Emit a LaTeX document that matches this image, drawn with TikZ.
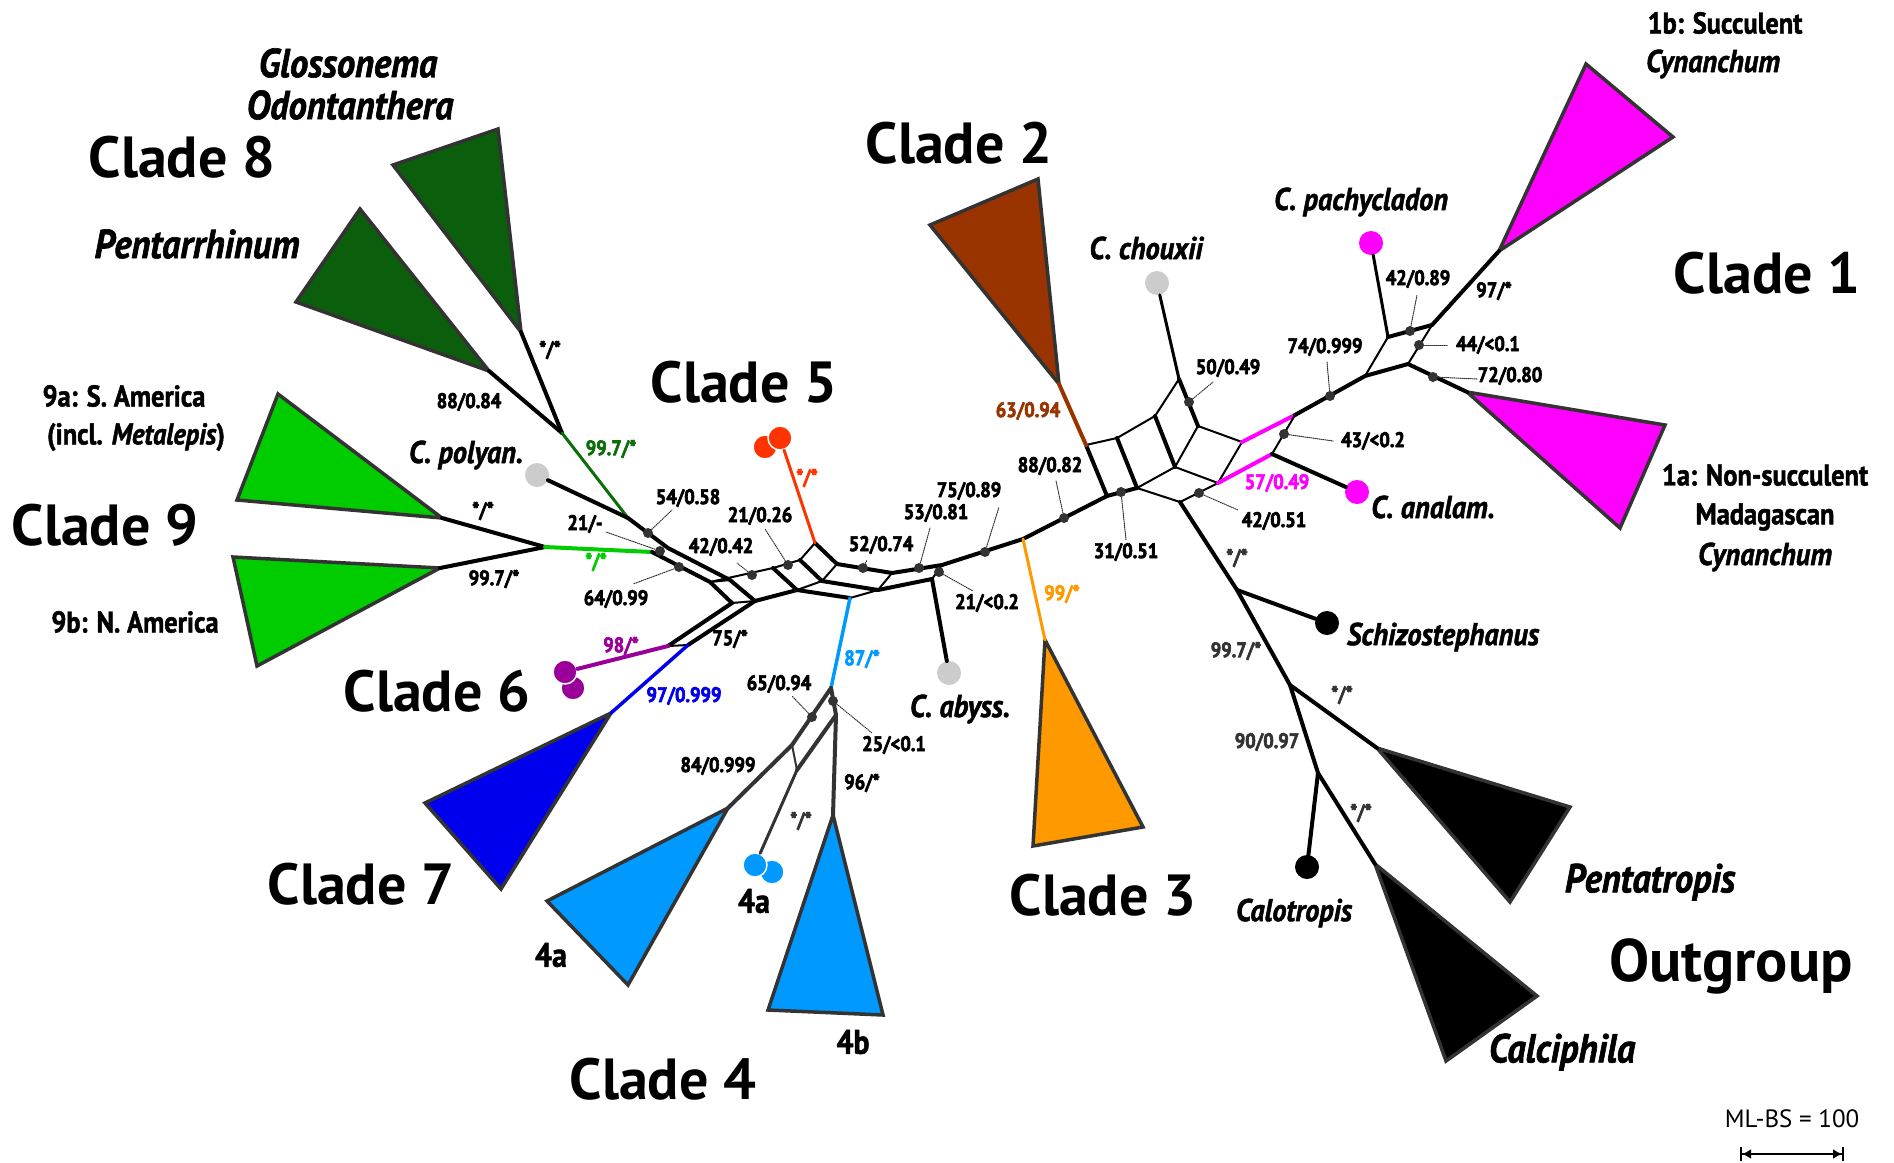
\documentclass[tikz,border=0pt]{standalone}
\usepackage{fontspec}
\newfontfamily\cf[FakeStretch=0.88, FakeBold=1.5]{PT Sans}
\newfontfamily\cs[FakeStretch=0.88, FakeBold=3]{PT Sans}
\newfontfamily\ci[FakeStretch=0.9, FakeBold=1.5]{PT Sans}
\newfontfamily\wf{PT Sans}
\usetikzlibrary{arrows.meta}
\definecolor{cmag}{HTML}{FF00FF}
\definecolor{cbrown}{HTML}{993300}
\definecolor{corange}{HTML}{FF9900}
\definecolor{cdkgreen}{HTML}{0B5E0B}
\definecolor{cdkline}{HTML}{0A6E0A}
\definecolor{cltgreen}{HTML}{00CC00}
\definecolor{cpurple}{HTML}{990099}
\definecolor{cblue}{HTML}{0000EE}
\definecolor{cltblue}{HTML}{0099FF}
\definecolor{cred}{HTML}{FF3300}
\definecolor{cgray}{HTML}{CCCCCC}
\definecolor{cdark}{HTML}{333333}
\tikzset{
  thk/.style={line width=4pt},
  thn/.style={line width=2pt},
  tri/.style={draw=cdark, line width=3.5pt, line join=miter},
  dotn/.style={circle, fill=cdark, minimum size=10pt, inner sep=0pt},
  leader/.style={densely dotted, line width=1pt, cdark},
  tip/.style={circle, minimum size=24pt, inner sep=0pt},
  sl/.style={font=\cs\bfseries\fontsize{21}{21}\selectfont, inner sep=0pt},
  tx/.style={font=\ci\bfseries\itshape\fontsize{31.5}{31.5}\selectfont, inner sep=0pt},
  txb/.style={font=\ci\bfseries\itshape\fontsize{40.5}{40.5}\selectfont, inner sep=0pt},
  sub/.style={font=\cf\bfseries\fontsize{30}{30}\selectfont, inner sep=0pt},
  subl/.style={font=\cf\bfseries\fontsize{34}{34}\selectfont, inner sep=0pt},
  clade/.style={font=\wf\bfseries\fontsize{58}{58}\selectfont, inner sep=0pt},
}
\begin{document}
\begin{tikzpicture}[x=1pt,y=-1pt,line cap=round,line join=round]
\useasboundingbox (0,0) rectangle (1894,1162);

% ---------- coordinates ----------
\coordinate (p8a) at (521,332);
\coordinate (p8b) at (489,371);
\coordinate (j8) at (562,433);
\coordinate (jU) at (628,518);
\coordinate (a9a) at (442,518);
\coordinate (a9b) at (440,568);
\coordinate (j9) at (545,547);
\coordinate (jL) at (652,552);
\coordinate (u2) at (668,548);
\coordinate (u3) at (730,580);
\coordinate (u4) at (755,601);
\coordinate (l2) at (710,582);
\coordinate (l3) at (732,603);
\coordinate (pj) at (668,646);
\coordinate (bj) at (688,645);
\coordinate (a7) at (611,713);
\coordinate (m1) at (797,590);
\coordinate (m2) at (822,581);
\coordinate (m3) at (773,568);
\coordinate (m4) at (800,560);
\coordinate (r1) at (815,543);
\coordinate (r2) at (837,564);
\coordinate (bL) at (850,598);
\coordinate (n1) at (878,590);
\coordinate (n2) at (892,573);
\coordinate (n3) at (942,565);
\coordinate (n4) at (932,579);
\coordinate (oj) at (1023,539);
\coordinate (a3) at (1045,640);
\coordinate (c4) at (831,688);
\coordinate (k2) at (792,745);
\coordinate (a4a) at (728,808);
\coordinate (k4) at (836,715);
\coordinate (a4b) at (833,815);
\coordinate (k5) at (797,770);
\coordinate (R0) at (1107,496);
\coordinate (R1) at (1086,445);
\coordinate (R2) at (1117,438);
\coordinate (R3) at (1137,488);
\coordinate (R4) at (1155,416);
\coordinate (R5) at (1175,467);
\coordinate (R6) at (1179,379);
\coordinate (R7) at (1198,426);
\coordinate (R8) at (1242,442);
\coordinate (R9) at (1218,483);
\coordinate (R10) at (1180,502);
\coordinate (a2) at (1059,384);
\coordinate (M1) at (1295,415);
\coordinate (M2) at (1272,454);
\coordinate (B1) at (1365,376);
\coordinate (B2) at (1408,364);
\coordinate (B3) at (1388,337);
\coordinate (B4) at (1432,325);
\coordinate (a1b) at (1499,251);
\coordinate (a1a) at (1467,392);
\coordinate (O1) at (1237,590);
\coordinate (O2) at (1290,685);
\coordinate (O3) at (1318,773);
\coordinate (aPt) at (1377,748);
\coordinate (aCa) at (1375,864);

% ---------- triangles ----------
\filldraw[tri, fill=cdkgreen] (393,165) -- (498,129) -- (p8a) -- cycle;
\filldraw[tri, fill=cdkgreen] (296,302) -- (360,209) -- (p8b) -- cycle;
\filldraw[tri, fill=cltgreen] (278,394) -- (237,500) -- (a9a) -- cycle;
\filldraw[tri, fill=cltgreen] (233,557) -- (257,666) -- (a9b) -- cycle;
\filldraw[tri, fill=cblue] (425,803) -- (501,889) -- (a7) -- cycle;
\filldraw[tri, fill=cltblue] (547,901) -- (628,985) -- (a4a) -- cycle;
\filldraw[tri, fill=cltblue] (768,1010) -- (883,1015) -- (a4b) -- cycle;
\filldraw[tri, fill=corange] (1033,846) -- (1143,827) -- (a3) -- cycle;
\filldraw[tri, fill=cbrown] (930,225) -- (1038,179) -- (a2) -- cycle;
\filldraw[tri, fill=cmag] (1586,64) -- (1673,137) -- (a1b) -- cycle;
\filldraw[tri, fill=cmag] (1665,425) -- (1620,528) -- (a1a) -- cycle;
\filldraw[tri, fill=black] (1570,807) -- (1510,902) -- (aPt) -- cycle;
\filldraw[tri, fill=black] (1537,996) -- (1446,1061) -- (aCa) -- cycle;

% ---------- tips (circles) ----------
\node[tip, fill=cgray] (cpol) at (537,475) {};
\node[tip, fill=cpurple, draw=white, line width=1.5pt] (pc2) at (573,688) {};
\node[tip, fill=cpurple, draw=white, line width=1.5pt] (pc1) at (565,672) {};
\node[tip, fill=cred, draw=white, line width=1.5pt] (rc1) at (765,447) {};
\node[tip, fill=cred, draw=white, line width=1.5pt] (rc2) at (780,438) {};
\node[tip, fill=cltblue, draw=white, line width=1.5pt] (bc2) at (772,872) {};
\node[tip, fill=cltblue, draw=white, line width=1.5pt] (bc1) at (755,865) {};
\node[tip, fill=cgray] (cab) at (949,673) {};
\node[tip, fill=cgray] (cch) at (1157,283) {};
\node[tip, fill=cmag] (cpa) at (1371,243) {};
\node[tip, fill=cmag] (can) at (1357,492) {};
\node[tip, fill=black] (csc) at (1327,623) {};
\node[tip, fill=black] (cca) at (1307,867) {};

% ---------- left part ----------
\draw[thk] (p8a) -- (j8);
\draw[thk] (p8b) -- (j8);
\draw[line width=3pt, cdkline] (j8) -- (jU);
\draw[thk] (cpol) -- (jU);
\draw[thk] (a9a) -- (j9);
\draw[thk] (a9b) -- (j9);
\draw[line width=4pt, cltgreen] (j9) -- (jL);
\draw[thk] (jU) -- (u2) -- (u3) -- (u4);
\draw[thk] (jL) -- (l2) -- (l3);
\draw[thn] (l2) -- (u3);
\draw[thn] (l3) -- (u4);
\draw[thk] (l3) -- (pj);
\draw[thk] (u4) -- (bj);
\draw[thn] (pj) -- (bj);
\draw[line width=4pt, cpurple] (pj) -- (pc1);
\draw[line width=3.5pt, cblue] (bj) -- (a7);

% ---------- centre ----------
\draw[thn] (l2) -- (m3);
\draw[thk] (u4) -- (m1);
\draw[thk] (m3) -- (m1);
\draw[thn] (m3) -- (m4);
\draw[thn] (m1) -- (m2);
\draw[thk] (m4) -- (m2);
\draw[thn] (m4) -- (r1);
\draw[thk] (r1) -- (r2);
\draw[thn] (m2) -- (r2);
\draw[line width=3pt, cred] (r1) -- (rc2);
\draw[thk] (m1) -- (bL);
\draw[thn] (bL) -- (n1);
\draw[thk] (m2) -- (n1);
\draw[thk] (r2) -- (n2);
\draw[thn] (n1) -- (n2);
\draw[thk] (n2) -- (n3);
\draw[thk] (n1) -- (n4);
\draw[thn] (n4) -- (n3);
\draw[thk] (n4) -- (cab);
\draw[thk] (n3) -- (oj) -- (R0);
\draw[line width=3pt, corange] (oj) -- (a3);
\draw[line width=3.5pt, cltblue] (bL) -- (c4);

% ---------- clade 4 ----------
\draw[thk, cdark] (c4) -- (k2) -- (a4a);
\draw[thk, cdark] (c4) -- (k4) -- (a4b);
\draw[thk, cdark] (k4) -- (k5);
\draw[thn, cdark] (k2) -- (k5);
\draw[line width=3pt, cdark] (k5) -- (bc1);

% ---------- right network ----------
\draw[thk] (R1) -- (R0);
\draw[thn] (R1) -- (R2);
\draw[thk] (R2) -- (R3);
\draw[thk] (R0) -- (R3);
\draw[thn] (R2) -- (R4);
\draw[thk] (R4) -- (R5);
\draw[thn] (R3) -- (R5);
\draw[thn] (R4) -- (R6);
\draw[thk] (R6) -- (R7);
\draw[thn] (R5) -- (R7);
\draw[thn] (R7) -- (R8);
\draw[thn] (R5) -- (R9);
\draw[thn] (R8) -- (R9);
\draw[thn] (R3) -- (R10);
\draw[thn] (R10) -- (R9);
\draw[line width=4pt, cbrown] (R1) -- (a2);
\draw[line width=3pt] (R6) -- (cch);
\draw[line width=4pt, cmag] (R8) -- (M1);
\draw[line width=4pt, cmag] (R9) -- (M2);
\draw[thn] (M1) -- (M2);
\draw[thk] (M2) -- (can);
\draw[thk] (M1) -- (B1) -- (B2);
\draw[thn] (B1) -- (B3);
\draw[thk] (B3) -- (B4);
\draw[thn] (B2) -- (B4);
\draw[thk] (B4) -- (a1b);
\draw[thk] (B2) -- (a1a);
\draw[line width=3pt] (B3) -- (cpa);

% ---------- outgroup ----------
\draw[thk] (R10) -- (O1) -- (O2) -- (O3);
\draw[thk] (O1) -- (csc);
\draw[thk] (O2) -- (aPt);
\draw[thk] (O3) -- (cca);
\draw[thk] (O3) -- (aCa);

% ---------- support dots with leaders ----------
\node[dotn] (d1) at (648,533) {};
\node[dotn] (d2) at (660,551) {};
\node[dotn] (d3) at (679,567) {};
\node[dotn] (d4) at (752,575) {};
\node[dotn] (d5) at (788,565) {};
\node[dotn] (d6) at (863,568) {};
\node[dotn] (d7) at (919,568) {};
\node[dotn] (d8) at (939,572) {};
\node[dotn] (d9) at (985,552) {};
\node[dotn] (d10) at (1064,518) {};
\node[dotn] (d11) at (1121,492) {};
\node[dotn] (d12) at (1199,493) {};
\node[dotn] (d13) at (1189,402) {};
\node[dotn] (d14) at (1284,434) {};
\node[dotn] (d15) at (1330,396) {};
\node[dotn] (d16) at (1410,331) {};
\node[dotn] (d17) at (1419,345) {};
\node[dotn] (d18) at (1433,377) {};
\node[dotn] (d19) at (812,717) {};
\node[dotn] (d20) at (833,701) {};

\coordinate (e1) at (672,510);
\coordinate (e2) at (606,532);
\coordinate (e3) at (633,584);
\coordinate (e4) at (737,563);
\coordinate (e5) at (765,529);
\coordinate (e6) at (867,560);
\coordinate (e7) at (930,528);
\coordinate (e8) at (973,591);
\coordinate (e9) at (999,507);
\coordinate (e10) at (1056,481);
\coordinate (e11) at (1126,540);
\coordinate (e12) at (1238,510);
\coordinate (e13) at (1213,382);
\coordinate (e14) at (1333,441);
\coordinate (e15) at (1327,362);
\coordinate (e16) at (1417,295);
\coordinate (e17) at (1448,345);
\coordinate (e18) at (1477,379);
\coordinate (e19) at (792,696);
\coordinate (e20) at (872,733);
\foreach \i in {1,...,20} { \draw[leader] (d\i) -- (e\i); }

% ---------- support labels ----------
\node[sl] (s1) at (550,350) {*/*};
\node[sl] (s2) at (469,402) {88/0.84};
\node[sl, text=cdkline] (s3) at (611,449) {99.7/*};
\node[sl] (s4) at (483,511) {*/*};
\node[sl] (s5) at (585,524) {21/-};
\node[sl] (s6) at (688,498) {54/0.58};
\node[sl, text=cltgreen] (s7) at (596,562) {*/*};
\node[sl] (s8) at (494,579) {99.7/*};
\node[sl] (s9) at (616,599) {64/0.99};
\node[sl] (s10) at (721,547) {42/0.42};
\node[sl] (s11) at (760,516) {21/0.26};
\node[sl, text=cred] (s12) at (807,478) {*/*};
\node[sl] (s13) at (881,545) {52/0.74};
\node[sl] (s14) at (936,513) {53/0.81};
\node[sl] (s15) at (969,491) {75/0.89};
\node[sl] (s16) at (1050,466) {88/0.82};
\node[sl, text=cbrown] (s17) at (1028,411) {63/0.94};
\node[sl] (s18) at (1228,368) {50/0.49};
\node[sl] (s19) at (1325,347) {74/0.999};
\node[sl] (s20) at (1418,279) {42/0.89};
\node[sl] (s21) at (1494,291) {97/*};
\node[sl] (s22) at (1488,345) {44/<0.1};
\node[sl] (s23) at (1510,376) {72/0.80};
\node[sl] (s24) at (1373,441) {43/<0.2};
\node[sl, text=cmag] (s25) at (1277,483) {57/0.49};
\node[sl] (s26) at (1274,521) {42/0.51};
\node[sl] (s27) at (1126,552) {31/0.51};
\node[sl, text=corange] (s28) at (1062,594) {99/*};
\node[sl] (s29) at (987,603) {21/<0.2};
\node[sl] (s30) at (730,639) {75/*};
\node[sl, text=cpurple] (s31) at (621,646) {98/*};
\node[sl, text=cblue] (s32) at (684,696) {97/0.999};
\node[sl, text=cltblue] (s33) at (862,659) {87/*};
\node[sl] (s34) at (779,684) {65/0.94};
\node[sl] (s35) at (894,745) {25/<0.1};
\node[sl] (s36) at (718,766) {84/0.999};
\node[sl] (s37) at (862,783) {96/*};
\node[sl, text=cdark] (s38) at (801,821) {*/*};
\node[sl, text=cdark] (s39) at (1237,558) {*/*};
\node[sl, text=cdark] (s40) at (1236,651) {99.7/*};
\node[sl, text=cdark] (s41) at (1342,695) {*/*};
\node[sl, text=cdark] (s42) at (1267,742) {90/0.97};
\node[sl, text=cdark] (s43) at (1361,813) {*/*};

% ---------- clade labels ----------
\node[clade] (L8) at (182,157) {Clade 8};
\node[clade] (L9) at (105,525) {Clade 9};
\node[clade] (L5) at (744,382) {Clade 5};
\node[clade] (L6) at (437,691) {Clade 6};
\node[clade] (L7) at (361,884) {Clade 7};
\node[clade] (L4) at (663,1079) {Clade 4};
\node[clade] (L3) at (1103,895) {Clade 3};
\node[clade] (L2) at (959,143) {Clade 2};
\node[clade] (L1) at (1767,273) {Clade 1};
\node[clade, font=\wf\bfseries\fontsize{60}{60}\selectfont] (LO) at (1731,966) {Outgroup};

% ---------- taxon labels ----------
\node[txb] (tG) at (348,63) {Glossonema};
\node[txb] (tO) at (350,105) {Odontanthera};
\node[txb] (tP) at (197,244) {Pentarrhinum};
\node[sub] (t9a) at (124,396) {9a: S. America};
\node[sub] (t9a2) at (136,437) {(incl. \itshape Metalepis\upshape)};
\node[sub] (t9b) at (135,622) {9b: N. America};
\node[tx] (tpol) at (466,455) {C. polyan.};
\node[subl] (t4a1) at (551,955) {4a};
\node[subl] (t4a2) at (754,901) {4a};
\node[subl] (t4b) at (853,1042) {4b};
\node[tx] (tab) at (960,709) {C. abyss.};
\node[tx] (tch) at (1146,248) {C. chouxii};
\node[tx] (tpa) at (1361,202) {C. pachycladon};
\node[sub] (t1b) at (1725,23) {1b: Succulent};
\node[tx] (t1b2) at (1713,64) {Cynanchum};
\node[sub] (t1a) at (1765,475) {1a: Non-succulent};
\node[sub] (t1a2) at (1765,517) {Madagascan};
\node[tx] (t1a3) at (1765,557) {Cynanchum};
\node[tx] (tan) at (1433,507) {C. analam.};
\node[tx] (tsc) at (1443,637) {Schizostephanus};
\node[txb] (tpt) at (1650,882) {Pentatropis};
\node[tx] (tct) at (1294,913) {Calotropis};
\node[txb] (tca) at (1562,1052) {Calciphila};

% ---------- scale bar ----------
\node[font=\wf\fontsize{25}{25}\selectfont, inner sep=0pt] (mlbs) at (1792,1119) {ML-BS = 100};
\coordinate (sbL) at (1740,1154);
\coordinate (sbR) at (1844,1154);
\draw[line width=2pt, {Bar[width=14pt]Latex[length=9pt,width=10pt]}-{Latex[length=9pt,width=10pt]Bar[width=14pt]}] (sbL) -- (sbR);
\end{tikzpicture}
\end{document}
